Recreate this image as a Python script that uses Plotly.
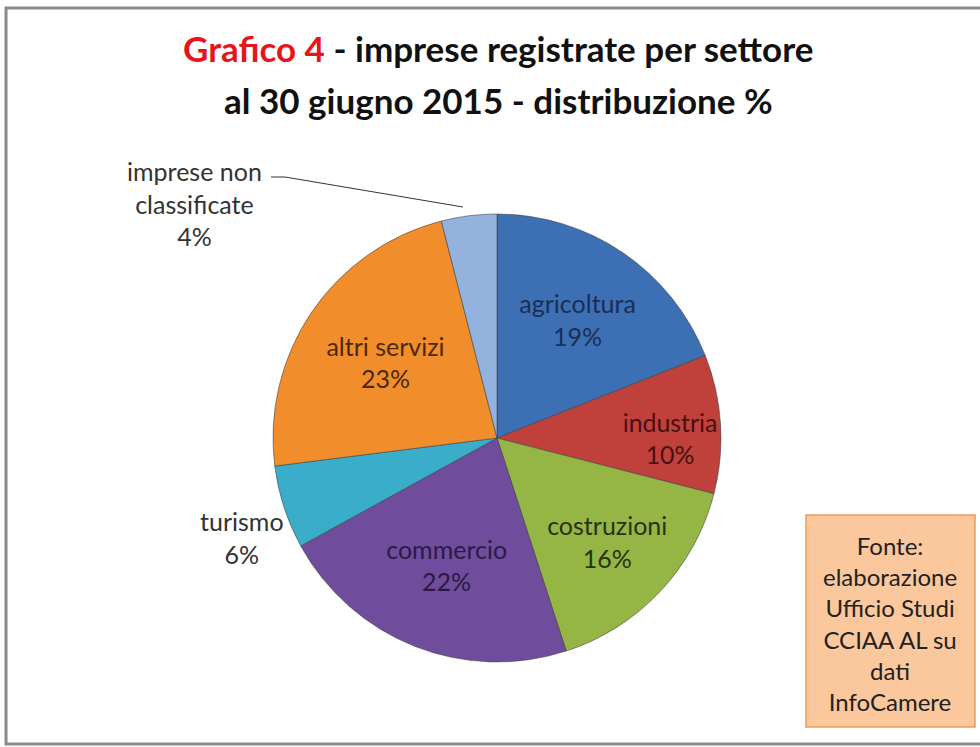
import plotly.graph_objects as go

categories = ["agricoltura", "industria", "costruzioni", "commercio", "turismo",
              "altri servizi", "imprese non<br>classificate"]
values = [19, 10, 16, 22, 6, 23, 4]
slice_colors = ["#3C6FB4", "#C0403C", "#95B545", "#6F4C9C", "#3AADCB", "#F28D2C", "#93B2DD"]
text_colors = ["#1B2E55", "#4A1010", "#27330F", "#2A1A45", "#333333", "#4A2A08", "#333333"]
inside = [True, True, True, True, False, True, False]

title_red = "Grafico 4"
title_line1_rest = " - imprese registrate per settore"
title_line2 = "al 30 giugno 2015 - distribuzione %"
source_text = "Fonte:<br>elaborazione<br>Ufficio Studi<br>CCIAA AL su<br>dati<br>InfoCamere"

FONT = "Lato"
W, H = 980, 747
cx, cy, r = 497, 438, 224

texts = [f"{c}<br>{v}%" if ins else "" for c, v, ins in zip(categories, values, inside)]

fig = go.Figure(go.Pie(
    labels=categories,
    values=values,
    sort=False,
    direction="clockwise",
    rotation=0,
    text=texts,
    textinfo="text",
    textposition="inside",
    insidetextorientation="horizontal",
    textfont=dict(family=FONT, size=25, color=text_colors),
    marker=dict(colors=slice_colors, line=dict(color="rgba(60,60,60,0.55)", width=1)),
    domain=dict(x=[(cx - r) / W, (cx + r) / W], y=[(H - cy - r) / H, (H - cy + r) / H]),
    showlegend=False,
    hoverinfo="label+value",
))

def ann(text, x, y, size, color="#333333", bold=False):
    return dict(text=f"<b>{text}</b>" if bold else text, x=x / W, y=(H - y) / H,
                xref="paper", yref="paper", showarrow=False, align="center",
                xanchor="center", yanchor="middle",
                font=dict(family=FONT, size=size, color=color))

annotations = [
    ann(f"<span style='color:#E8141B'>{title_red}</span>{title_line1_rest}", 498, 48, 35, "#111111", True),
    ann(title_line2, 498, 100, 35, "#111111", True),
    ann(f"{categories[4]}<br>{values[4]}%", 242, 537, 25, text_colors[4]),
    ann(f"{categories[6]}<br>{values[6]}%", 194, 203, 25, text_colors[6]),
    ann(source_text, 890, 623, 24, "#222222"),
]

shapes = [
    # outer frame
    dict(type="rect", xref="paper", yref="paper", x0=6 / W, x1=1.05, y0=(H - 744) / H, y1=(H - 8) / H,
         line=dict(color="#8A8A8A", width=3), fillcolor="rgba(0,0,0,0)"),
    # leader line for imprese non classificate
    dict(type="path", xref="paper", yref="paper",
         path=f"M {271/W},{(H-177)/H} L {285/W},{(H-177)/H} L {463/W},{(H-207)/H}",
         line=dict(color="#333333", width=1)),
    # source box
    dict(type="rect", xref="paper", yref="paper", x0=806 / W, x1=975 / W, y0=(H - 727) / H, y1=(H - 515) / H,
         line=dict(color="#EE9A55", width=1.5), fillcolor="#FBC79C", layer="below"),
]

fig.update_layout(
    width=W, height=H,
    margin=dict(l=0, r=0, t=0, b=0),
    paper_bgcolor="white",
    annotations=annotations,
    shapes=shapes,
)

fig.write_html("out.html", config={"displayModeBar": False},
               post_script="document.body.style.margin='0';document.body.style.overflow='hidden';")
